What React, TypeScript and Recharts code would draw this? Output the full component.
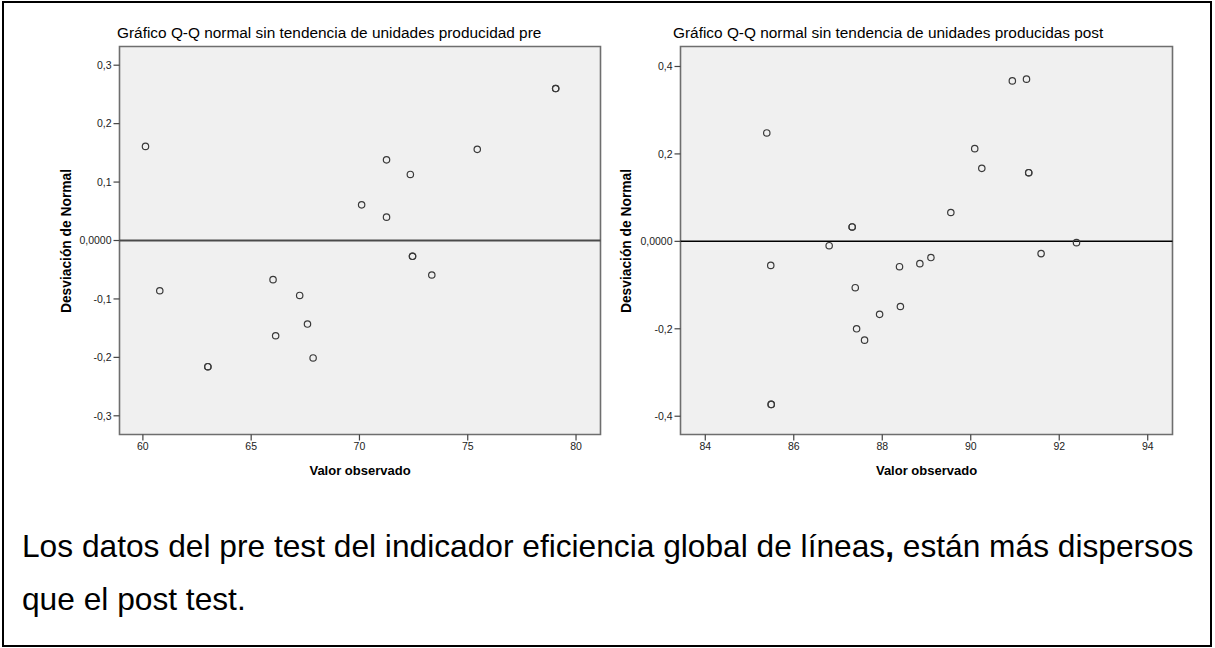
import React from 'react'
import {
  CartesianGrid,
  ReferenceArea,
  ReferenceLine,
  Scatter,
  ScatterChart,
  XAxis,
  YAxis,
} from 'recharts'

// Pre test: observed value and deviation from normal (ties repeated)
const PRE_X = [60.12, 60.78, 63.0, 63.0, 66.01, 66.13, 67.24, 67.6, 67.86, 70.1, 71.25, 71.25, 72.35, 72.45, 72.45, 73.34, 75.44, 79.06, 79.06]
const PRE_DEV = [0.161, -0.086, -0.216, -0.216, -0.067, -0.163, -0.094, -0.143, -0.201, 0.061, 0.138, 0.04, 0.113, -0.027, -0.027, -0.059, 0.156, 0.26, 0.26]

// Post test
const POST_X = [85.39, 85.48, 85.49, 85.49, 86.8, 87.32, 87.32, 87.39, 87.42, 87.6, 87.94, 88.39, 88.41, 88.85, 89.1, 89.55, 90.09, 90.25, 90.94, 91.26, 91.31, 91.31, 91.59, 92.39]
const POST_DEV = [0.248, -0.055, -0.373, -0.373, -0.01, 0.033, 0.033, -0.106, -0.2, -0.226, -0.167, -0.058, -0.149, -0.051, -0.037, 0.066, 0.212, 0.167, 0.367, 0.371, 0.157, 0.157, -0.028, -0.003]

const PRE_X_TICKS = [60, 65, 70, 75, 80]
const PRE_Y_TICKS = [-0.3, -0.2, -0.1, 0, 0.1, 0.2, 0.3]
const POST_X_TICKS = [84, 86, 88, 90, 92, 94]
const POST_Y_TICKS = [-0.4, -0.2, 0, 0.2, 0.4]

const TITLE_PRE = 'Gráfico Q-Q normal sin tendencia de unidades producidad pre'
const TITLE_POST = 'Gráfico Q-Q normal sin tendencia de unidades producidas post'
const X_LABEL = 'Valor observado'
const Y_LABEL = 'Desviación de Normal'

const SANS = "'Liberation Sans', Arial, sans-serif"
const NARROW = "'Liberation Sans Narrow', 'Arial Narrow', 'Liberation Sans', Arial, sans-serif"

const fmtY = (v: number) => (v === 0 ? '0,0000' : v.toFixed(1).replace('.', ','))

const Ring = (props: any) => {
  const { cx, cy } = props
  if (cx == null || cy == null) return null
  return <circle cx={cx} cy={cy} r={3.2} fill="none" stroke="#3a3a3a" strokeWidth={1.2} />
}

interface QQProps {
  left: number
  width: number
  plotLeft: number
  plotRight: number
  xs: number[]
  ys: number[]
  xDomain: [number, number]
  yDomain: [number, number]
  xTicks: number[]
  yTicks: number[]
  title: string
  titleLeft: number
  yLabelX: number
  zeroColor: string
  zeroWidth: number
}

function QQChart(p: QQProps) {
  const data = p.xs.map((x, i) => ({ x, y: p.ys[i] }))
  const plotTop = 46.5
  const plotBottom = 434.5
  const height = 460
  const tick = { fontSize: 10.5, fontFamily: NARROW, fill: '#222' }
  return (
    <>
      <div
        style={{
          position: 'absolute',
          left: p.titleLeft,
          top: 24,
          fontFamily: SANS,
          fontSize: 15.4,
          lineHeight: '18px',
          whiteSpace: 'nowrap',
          color: '#000',
        }}
      >
        {p.title}
      </div>
      <div style={{ position: 'absolute', left: p.left, top: 0 }}>
        <ScatterChart
          width={p.width}
          height={height}
          margin={{ top: plotTop, right: p.width - p.plotRight, bottom: 0, left: 0 }}
        >
          <CartesianGrid fill="#f0f0f0" horizontal={false} vertical={false} />
          <XAxis
            type="number"
            dataKey="x"
            domain={p.xDomain}
            ticks={p.xTicks}
            allowDataOverflow
            height={height - plotBottom}
            axisLine={false}
            tickLine={{ stroke: '#444', strokeWidth: 1.2 }}
            tickSize={6}
            tick={tick}
          />
          <YAxis
            type="number"
            dataKey="y"
            domain={p.yDomain}
            ticks={p.yTicks}
            allowDataOverflow
            width={p.plotLeft}
            axisLine={false}
            tickLine={{ stroke: '#444', strokeWidth: 1.2 }}
            tickSize={6}
            tick={tick}
            tickFormatter={fmtY}
          />
          <ReferenceArea
            x1={p.xDomain[0]}
            x2={p.xDomain[1]}
            y1={p.yDomain[0]}
            y2={p.yDomain[1]}
            fill="none"
            fillOpacity={0}
            stroke="#6e6e6e"
            strokeWidth={1.6}
          />
          <ReferenceLine y={0} stroke={p.zeroColor} strokeWidth={p.zeroWidth} />
          <Scatter data={data} shape={<Ring />} isAnimationActive={false} />
        </ScatterChart>
      </div>
      <div
        style={{
          position: 'absolute',
          left: p.left + p.yLabelX - 150,
          top: (plotTop + plotBottom) / 2 - 9,
          width: 300,
          textAlign: 'center',
          transform: 'rotate(-90deg)',
          fontFamily: SANS,
          fontWeight: 'bold',
          fontSize: 13.8,
          lineHeight: '18px',
          color: '#000',
        }}
      >
        {Y_LABEL}
      </div>
      <div
        style={{
          position: 'absolute',
          left: p.left + (p.plotLeft + p.plotRight) / 2 - 150,
          top: 462,
          width: 300,
          textAlign: 'center',
          fontFamily: SANS,
          fontWeight: 'bold',
          fontSize: 13,
          lineHeight: '18px',
          color: '#000',
        }}
      >
        {X_LABEL}
      </div>
    </>
  )
}

export default function App() {
  return (
    <div style={{ position: 'absolute', left: 0, top: 0, width: 1215, height: 648, background: '#fff', overflow: 'hidden' }}>
      <div
        style={{
          position: 'absolute',
          left: 2,
          top: 1,
          width: 1210,
          height: 646,
          border: '2px solid #000',
          boxSizing: 'border-box',
        }}
      />
      <QQChart
        left={0}
        width={620}
        plotLeft={119.5}
        plotRight={600.5}
        xs={PRE_X}
        ys={PRE_DEV}
        xDomain={[58.92, 81.13]}
        yDomain={[-0.332, 0.332]}
        xTicks={PRE_X_TICKS}
        yTicks={PRE_Y_TICKS}
        title={TITLE_PRE}
        titleLeft={117}
        yLabelX={67}
        zeroColor="#4a4a4a"
        zeroWidth={1.8}
      />
      <QQChart
        left={560}
        width={640}
        plotLeft={120.5}
        plotRight={612.5}
        xs={POST_X}
        ys={POST_DEV}
        xDomain={[83.44, 94.56]}
        yDomain={[-0.4418, 0.4457]}
        xTicks={POST_X_TICKS}
        yTicks={POST_Y_TICKS}
        title={TITLE_POST}
        titleLeft={673}
        yLabelX={67}
        zeroColor="#000"
        zeroWidth={1.5}
      />
      <div
        style={{
          position: 'absolute',
          left: 22,
          top: 519.5,
          fontFamily: SANS,
          fontSize: 31.7,
          lineHeight: '53px',
          color: '#000',
          whiteSpace: 'nowrap',
        }}
      >
        Los datos del pre test del indicador eficiencia global de líneas<b>,</b> están más dispersos
        <br />
        que el post test.
      </div>
    </div>
  )
}
